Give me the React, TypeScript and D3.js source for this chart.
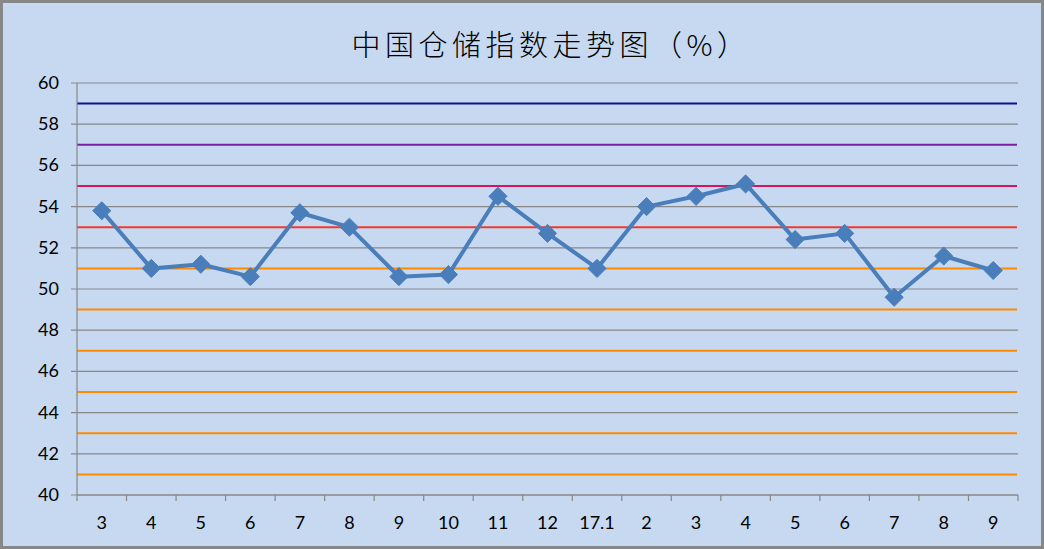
import React from "react";
import * as d3 from "d3";

const width = 1044;
const height = 549;

const categories = ["3", "4", "5", "6", "7", "8", "9", "10", "11", "12", "17.1", "2", "3", "4", "5", "6", "7", "8", "9"];
const values = [53.8, 51.0, 51.2, 50.6, 53.7, 53.0, 50.6, 50.7, 54.5, 52.7, 51.0, 54.0, 54.5, 55.1, 52.4, 52.7, 49.6, 51.6, 50.9];
const yTicks = [40, 42, 44, 46, 48, 50, 52, 54, 56, 58, 60];
const refLevels = [59, 57, 55, 53, 51, 49, 47, 45, 43, 41];
const refColors = ["#0f0f8f", "#7b1fa2", "#d6145f", "#f03a2a", "#ff8a00", "#ff8a00", "#ff8a00", "#ff8a00", "#ff8a00", "#ff8a00"];

const margin = { left: 77, right: 26, top: 83, bottom: 54 };

const App: React.FC = () => {
  const x = d3
    .scaleBand<number>()
    .domain(d3.range(categories.length))
    .range([margin.left, width - margin.right]);
  const y = d3.scaleLinear().domain([40, 60]).range([height - margin.bottom, margin.top]);

  const cx = (i: number) => (x(i) as number) + x.bandwidth() / 2;
  const line = d3
    .line<number>()
    .x((_, i) => cx(i))
    .y((d) => y(d));

  const diamond = d3.symbol().type(d3.symbolDiamond2).size(210)();
  const x0 = margin.left;
  const x1 = width - margin.right;
  const base = y(40);
  const labelFont = "Lato, 'Noto Sans', sans-serif";

  return (
    <>
      <style>{`body{margin:0}`}</style>
      <svg width={width} height={height} style={{ display: "block" }}>
        <rect x={1.5} y={1.5} width={width - 3} height={height - 3} fill="#c6d9f1" stroke="#878787" strokeWidth={3} />
        <text
          x={551}
          y={56}
          textAnchor="middle"
          fontSize={29}
          fontWeight={300}
          fontFamily="'Noto Sans CJK SC', sans-serif"
          letterSpacing={4.5}
          fill="#000"
        >
          中国仓储指数走势图（%）
        </text>

        {/* gridlines */}
        {yTicks.map((t) => (
          <g key={`g${t}`}>
            <line x1={x0 - 6} x2={x1} y1={y(t)} y2={y(t)} stroke="#878787" strokeWidth={1.2} />
            <text x={59} y={y(t) + 6} textAnchor="end" fontSize={18} fontFamily={labelFont} fill="#000">
              {t}
            </text>
          </g>
        ))}

        {/* reference lines */}
        {refLevels.map((v, i) => (
          <line key={`r${v}`} x1={x0} x2={x1 - 1} y1={y(v)} y2={y(v)} stroke={refColors[i]} strokeWidth={2} />
        ))}

        {/* axes */}
        <line x1={x0} x2={x0} y1={y(60)} y2={base} stroke="#878787" strokeWidth={1.2} />
        <line x1={x0} x2={x1} y1={base} y2={base} stroke="#878787" strokeWidth={1.2} />
        {d3.range(categories.length + 1).map((i) => {
          const tx = i < categories.length ? (x(i) as number) : x1;
          return <line key={`t${i}`} x1={tx} x2={tx} y1={base} y2={base + 6} stroke="#878787" strokeWidth={1.2} />;
        })}
        {categories.map((c, i) => (
          <text key={`c${i}`} x={cx(i)} y={529} textAnchor="middle" fontSize={18} fontFamily={labelFont} fill="#000">
            {c}
          </text>
        ))}

        {/* series */}
        <path d={line(values) ?? ""} fill="none" stroke="#4a7ebb" strokeWidth={4} strokeLinejoin="round" />
        {values.map((v, i) => (
          <path key={`m${i}`} d={diamond ?? ""} transform={`translate(${cx(i)},${y(v)})`} fill="#4a7ebb" stroke="#4a7ebb" strokeWidth={1} />
        ))}
      </svg>
    </>
  );
};

export default App;
